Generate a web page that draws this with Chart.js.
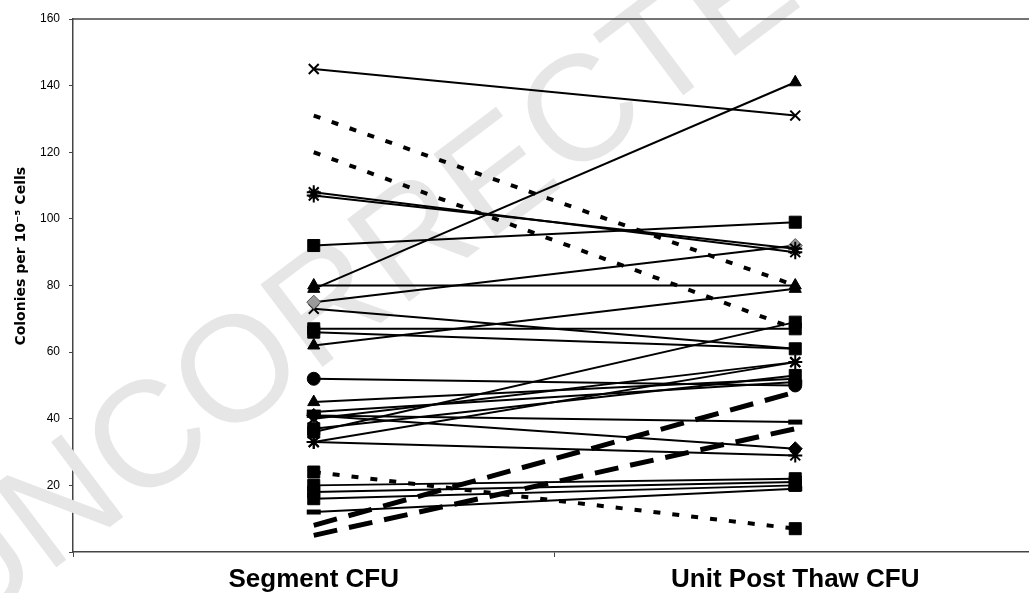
<!DOCTYPE html>
<html>
<head>
<meta charset="utf-8">
<script src="https://cdn.jsdelivr.net/npm/chart.js@4/dist/chart.umd.min.js"></script>
<style>
html,body{margin:0;padding:0;background:#fff;overflow:hidden;width:1029px;height:593px;}
#wrap{position:absolute;left:0;top:0;width:1048px;height:593px;}
</style>
</head>
<body>
<div id="wrap"><canvas id="c"></canvas></div>
<script>
// ---- data ----
const categories = ['Segment CFU', 'Unit Post Thaw CFU'];
const segmentCFU  = [145, 131, 120, 108, 107, 92, 79, 80, 75, 73, 67, 66, 62, 36, 52, 45, 42, 40, 37, 33, 33, 41, 41, 20, 18, 16, 12, 24, 8, 5];
const postThawCFU = [131, 80, 67, 90, 91, 99, 141, 80, 92, 61, 67, 61, 79, 69, 50, 52, 51, 57, 53, 57, 29, 39, 31, 22, 21, 20, 19, 7, 48, 37];
const yTicks = [0, 20, 40, 60, 80, 100, 120, 140, 160];

// ---- styles (marker, line type) per sample ----
const markers = ['crossRot','none','none','star','star','rect','triangle','triangle','rectRot','crossRot','rect','rect','triangle','rect','circle','triangle','line','crossRot','rect','star','star','line','rectRot','rect','rect','rect','line','rect','none','none'];
const lineKinds = ['solid','dot','dot','solid','solid','solid','solid','solid','solid','solid','solid','solid','solid','solid','solid','solid','solid','solid','solid','solid','solid','solid','solid','solid','solid','solid','solid','dot','dash','dash'];

function markerRadius(m){
  switch(m){
    case 'rect': return 8.5;
    case 'crossRot': return 7;
    case 'star': return 7;
    case 'triangle': return 7;
    case 'rectRot': return 7;
    case 'circle': return 6.5;
    case 'line': return 7;
    default: return 0;
  }
}

const datasets = segmentCFU.map((v, i) => {
  const m = markers[i];
  const k = lineKinds[i];
  const gray = (m === 'rectRot' && i === 8);
  return {
    label: 'Sample ' + (i + 1),
    data: [v, postThawCFU[i]],
    borderColor: '#000',
    borderWidth: k === 'solid' ? 2 : (k === 'dot' ? 4 : 5),
    borderDash: k === 'dot' ? [7, 12] : (k === 'dash' ? [24, 12] : []),
    borderCapStyle: 'butt',
    pointStyle: m === 'none' ? false : m,
    pointRadius: markerRadius(m),
    pointHoverRadius: markerRadius(m),
    pointBackgroundColor: gray ? '#9a9a9a' : '#000',
    pointBorderColor: gray ? '#555' : '#000',
    pointBorderWidth: (m === 'crossRot' || m === 'star') ? 2 : (m === 'line' ? 5 : 1),
    tension: 0,
    fill: false
  };
});

const watermark = {
  id: 'watermark',
  beforeDatasetsDraw(chart){
    const ctx = chart.ctx;
    ctx.save();
    ctx.translate(-40, 640);
    ctx.rotate(-37 * Math.PI / 180);
    ctx.font = '150px "Liberation Sans", Arial, sans-serif';
    ctx.fillStyle = '#e6e6e6';
    ctx.textBaseline = 'alphabetic';
    ctx.fillText('UNCORRECTED PROOF', 0, 0);
    ctx.restore();
  }
};

const topBorder = {
  id: 'topBorder',
  afterDraw(chart){
    const a = chart.chartArea, ctx = chart.ctx;
    ctx.save();
    ctx.strokeStyle = '#444';
    ctx.lineWidth = 1.5;
    ctx.beginPath();
    ctx.moveTo(a.left, a.top);
    ctx.lineTo(a.right, a.top);
    ctx.stroke();
    ctx.restore();
  }
};

new Chart(document.getElementById('c'), {
  type: 'line',
  data: { labels: categories, datasets },
  options: {
    responsive: true,
    maintainAspectRatio: false,
    animation: false,
    events: [],
    layout: { padding: { top: 19, right: 3, left: 0, bottom: 0 } },
    plugins: { legend: { display: false }, tooltip: { enabled: false } },
    scales: {
      x: {
        offset: true,
        afterFit(scale){ scale.height = 41; },
        grid: { offset: true, drawOnChartArea: false, tickLength: 5, color: '#444' },
        border: { display: true, color: '#444', width: 1.5 },
        ticks: { color: '#000', padding: 7, font: { family: '"Liberation Sans Narrow", "Liberation Sans", Arial, sans-serif', size: 26, weight: 'bold' } }
      },
      y: {
        min: 0, max: 160,
        afterFit(scale){ scale.width = 73; },
        afterBuildTicks(scale){ scale.ticks = yTicks.map(v => ({ value: v })); },
        grid: { drawOnChartArea: false, tickLength: 4, color: '#444' },
        border: { display: true, color: '#444', width: 1.5 },
        ticks: {
          color: '#000', padding: 9,
          font: { family: '"Liberation Sans", Arial, sans-serif', size: 12 },
          callback: v => v === 0 ? '-' : String(v)
        },
        title: {
          display: true,
          text: '\u00A0\u00A0\u00A0\u00A0\u00A0\u00A0\u00A0\u00A0\u00A0\u00A0\u00A0\u00A0Colonies per 10\u207B\u2075 Cells',
          color: '#000',
          padding: { top: 13, bottom: 0 },
          font: { family: '"DejaVu Sans", sans-serif', size: 14, weight: 'bold' }
        }
      }
    }
  },
  plugins: [watermark, topBorder]
});
</script>
</body>
</html>
